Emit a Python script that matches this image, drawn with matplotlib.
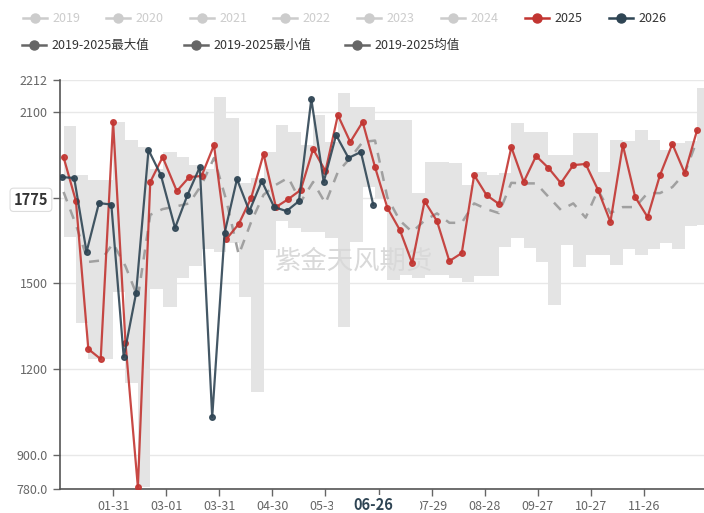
import datetime as dt
import numpy as np
import matplotlib
matplotlib.use('Agg')
import matplotlib.pyplot as plt
from matplotlib.lines import Line2D
from matplotlib.patches import Rectangle

plt.rcParams['font.family'] = ['Noto Sans CJK SC', 'DejaVu Sans']

# ── data ──
dates_2025 = ['01-03', '01-10', '01-17', '01-24', '01-31', '02-07', '02-14', '02-21', '02-28',
              '03-07', '03-14', '03-21', '03-28', '04-04', '04-11', '04-18', '04-25', '05-02',
              '05-09', '05-16', '05-23', '05-30', '06-06', '06-13', '06-20', '06-27', '07-04',
              '07-11', '07-18', '07-25', '08-01', '08-08', '08-15', '08-22', '08-29', '09-05',
              '09-12', '09-19', '09-26', '10-03', '10-10', '10-17', '10-24', '10-31', '11-07',
              '11-14', '11-21', '11-28', '12-05', '12-12', '12-19', '12-26']
vals_2025 = [1942, 1788, 1270, 1235, 2065, 1291, 787, 1855, 1942, 1823, 1872, 1876, 1984,
             1655, 1708, 1799, 1953, 1767, 1795, 1827, 1970, 1893, 2089, 1995, 2065, 1907,
             1764, 1687, 1571, 1788, 1718, 1578, 1606, 1879, 1809, 1778, 1977, 1855, 1946,
             1904, 1851, 1914, 1918, 1827, 1715, 1984, 1802, 1732, 1879, 1988, 1886, 2037]

dates_2026 = ['01-02', '01-09', '01-16', '01-23', '01-30', '02-06', '02-13', '02-20', '02-27',
              '03-06', '03-13', '03-20', '03-27', '04-03', '04-10', '04-17', '04-24', '05-01',
              '05-08', '05-15', '05-22', '05-29', '06-05', '06-12', '06-19', '06-26']
vals_2026 = [1872, 1869, 1610, 1781, 1776, 1242, 1466, 1967, 1879, 1694, 1809, 1907, 1032,
             1676, 1865, 1753, 1858, 1767, 1753, 1788, 2145, 1855, 2019, 1939, 1960, 1775]

# 2019-2025 weekly max / min / mean (on the 2025 week dates)
hist_max = [2051, 1880, 1862, 1862, 2066, 2002, 1977, 1900, 1960, 1942, 1914, 1900, 2152,
            2080, 1850, 1870, 1960, 2055, 2030, 1984, 2090, 1995, 2167, 2118, 2118, 2072,
            2072, 2072, 1816, 1925, 1925, 1921, 1845, 1890, 1880, 1886, 2061, 2030, 2030,
            1950, 1950, 2026, 2026, 1890, 2002, 2000, 2037, 2002, 1967, 1990, 2000, 2184]
hist_min = [1662, 1362, 1235, 1235, 1470, 1150, 787, 1480, 1417, 1519, 1560, 1620, 1610,
            1640, 1452, 1120, 1617, 1720, 1694, 1680, 1680, 1660, 1347, 1645, 1837, 1800,
            1512, 1530, 1520, 1530, 1530, 1520, 1505, 1526, 1526, 1628, 1659, 1624, 1575,
            1424, 1635, 1557, 1600, 1600, 1565, 1620, 1600, 1620, 1640, 1620, 1700, 1705]
hist_mean = [1820, 1705, 1575, 1580, 1640, 1560, 1450, 1740, 1760, 1770, 1780, 1845, 1939,
             1790, 1600, 1715, 1810, 1845, 1870, 1785, 1855, 1780, 1890, 1939, 1995, 2000,
             1800, 1720, 1680, 1720, 1745, 1712, 1712, 1780, 1760, 1746, 1852, 1850, 1850,
             1803, 1757, 1780, 1730, 1827, 1746, 1767, 1767, 1816, 1816, 1837, 1886, 2002]

x_tick_dates = ['01-31', '03-01', '03-31', '04-30', '05-30', '06-29', '07-29', '08-28',
                '09-27', '10-27', '11-26']
x_tick_labels = ['01-31', '03-01', '03-31', '04-30', '05-30', '', '07-29', '08-28',
                 '09-27', '10-27', '11-26']   # 06-29 sits under the pointer label
y_ticks = [780, 900, 1200, 1500, 1800, 2100, 2212]
y_tick_labels = ['780.0', '900.0', '1200', '1500', '', '2100', '2212']

legend_years = ['2019', '2020', '2021', '2022', '2023', '2024', '2025', '2026']
legend_stats = ['2019-2025最大值', '2019-2025最小值', '2019-2025均值']
watermark = '紫金天风期货'

C25 = '#c23531'
C26 = '#2f4554'
BAND = '#e4e4e4'


def day_index(mmdd):
    # category axis is a leap-year calendar (01-01 .. 12-31)
    m, d = map(int, mmdd.split('-'))
    return (dt.date(2024, m, d) - dt.date(2024, 1, 1)).days


W, H = 704, 513
fig = plt.figure(figsize=(W / 100, H / 100), dpi=100)
ax = fig.add_axes([60 / W, 24 / H, 646 / W, 409 / H])

x25 = np.array([day_index(d) for d in dates_2025])
x26 = np.array([day_index(d) for d in dates_2026])

# band of historical range, drawn as weekly steps
xb = np.append(x25, 366)
ax.fill_between(xb, hist_min + [hist_min[-1]], hist_max + [hist_max[-1]],
                step='post', color=BAND, lw=0, zorder=1)

ax.text(166, 1578, watermark, fontsize=19, color='#d9d9d9', ha='center', va='center',
        zorder=1.5)

ax.plot(x25, hist_mean, color='#a0a0a0', lw=1.8, ls=(0, (4, 3.5)), zorder=2)
ax.plot(x25, vals_2025, color=C25, lw=1.6, marker='o', ms=4, alpha=0.9, zorder=3)
ax.plot(x26, vals_2026, color=C26, lw=1.6, marker='o', ms=4, alpha=0.9, zorder=4)

ax.set_xlim(0, 365)
ax.set_ylim(780, 2212)

ax.set_yticks(y_ticks)
ax.set_yticklabels(y_tick_labels)
ax.set_xticks([day_index(t) for t in x_tick_dates])
ax.set_xticklabels(x_tick_labels)
ax.tick_params(axis='both', labelsize=9, colors='#666666', length=5, width=1, pad=4)
ax.tick_params(axis='x', pad=3)
for lab in ax.get_xticklabels() + ax.get_yticklabels():
    lab.set_color('#666666')

for y in y_ticks:
    ax.axhline(y, color='#e8e8e8', lw=1, zorder=0)

for side in ['top', 'right']:
    ax.spines[side].set_visible(False)
for side in ['left', 'bottom']:
    ax.spines[side].set_color('#555555')
    ax.spines[side].set_linewidth(1.2)

# axis pointer labels
latest_date, latest_val = dates_2026[-1], vals_2026[-1]
ax.annotate(f'{latest_val:.0f}', xy=(-0.045, latest_val), xycoords=('axes fraction', 'data'),
            xytext=(0, 5), textcoords='offset pixels', ha='center', va='center',
            fontsize=10.5, fontweight='bold', color='#333333',
            bbox=dict(boxstyle='round,pad=0.25', fc='white', ec='#dddddd', lw=0.8),
            annotation_clip=False, zorder=10)

fig.add_artist(Rectangle((333 / W, 0), 87 / W, 18 / H, transform=fig.transFigure,
                         fc='white', ec='none', zorder=5))
xp = ax.transData.transform((day_index(latest_date), 780))[0] / W
fig.text(xp, 8 / H, latest_date, ha='center', va='center', fontsize=10.5,
         fontweight='bold', color='#2f4554', zorder=6)


# legend drawn by hand, ECharts style
def legend_item(xc, ypx, color, label, tcolor):
    yf = 1 - ypx / H
    fig.add_artist(Line2D([(xc - 12) / W, (xc + 12) / W], [yf, yf], transform=fig.transFigure,
                          color=color, lw=1.8))
    fig.add_artist(Line2D([xc / W], [yf], transform=fig.transFigure, marker='o', ms=6.5,
                          color=color, lw=0))
    fig.text((xc + 17) / W, yf, label, color=tcolor, fontsize=9, va='center')


row1_x = [35, 118, 202, 285, 369, 453, 537, 621]
for xc, lab in zip(row1_x, legend_years):
    if lab == '2025':
        legend_item(xc, 18, C25, lab, '#333333')
    elif lab == '2026':
        legend_item(xc, 18, C26, lab, '#333333')
    else:
        legend_item(xc, 18, '#cccccc', lab, '#cccccc')

row2_x = [34, 196, 357]
for xc, lab in zip(row2_x, legend_stats):
    legend_item(xc, 45, '#666666', lab, '#333333')

fig.savefig('out.png', dpi=100)
